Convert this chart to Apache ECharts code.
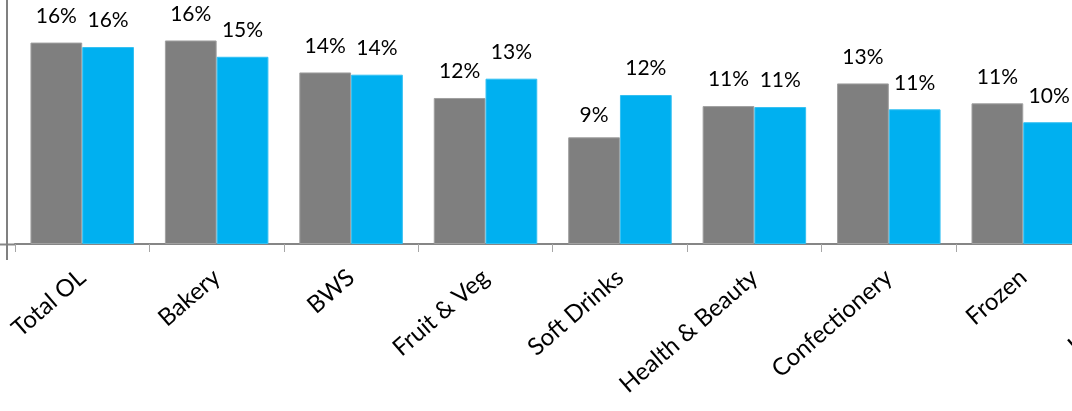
<!DOCTYPE html>
<html>
<head>
<meta charset="utf-8">
<script src="https://cdn.jsdelivr.net/npm/echarts@6/dist/echarts.min.js"></script>
<style>
html,body{margin:0;padding:0;background:#fff;overflow:hidden;width:1072px;height:411px;}
#c{width:1240px;height:411px;}
</style>
</head>
<body>
<div id="c"></div>
<script>
const categories = ['Total OL','Bakery','BWS','Fruit & Veg','Soft Drinks','Health & Beauty','Confectionery','Frozen','Household'];
const seriesGrey = [16.18, 16.35, 13.78, 11.73, 8.57, 11.08, 12.90, 11.30, null];
const seriesBlue = [15.82, 15.04, 13.60, 13.28, 11.97, 11.00, 10.82, 9.78, null];

const FONT = 'Lato';
const chart = echarts.init(document.getElementById('c'), null, {renderer:'canvas', width: 1240, height: 411});
const labelCfg = {
  show: true,
  position: 'top',
  distance: 16,
  fontFamily: FONT,
  fontSize: 21,
  color: '#000',
  formatter: p => Math.round(p.value) + '%'
};
// the "Soft Drinks" grey label sits a little closer to its bar in the reference
const greyData = seriesGrey.map((v, i) => i === 4 ? {value: v, label: {distance: 12}} : v);

chart.setOption({
  animation: false,
  grid: {left: 15, top: 0, right: 15.1, height: 244},
  xAxis: {
    type: 'category',
    data: categories,
    axisLine: {lineStyle: {color: '#868686', width: 2}},
    axisTick: {show: true, length: 8, lineStyle: {color: '#a6a6a6', width: 1}},
    axisLabel: {rotate: 41, margin: 30, fontFamily: FONT, fontSize: 24, color: '#000', interval: 0}
  },
  yAxis: {
    type: 'value',
    min: 0, max: 19.6,
    offset: 8,
    axisLine: {show: true, lineStyle: {color: '#808080', width: 2}},
    axisTick: {show: false},
    axisLabel: {show: false},
    splitLine: {show: false}
  },
  graphic: [
    {type: 'line', shape: {x1: 0, y1: 244.5, x2: 15, y2: 244.5}, style: {stroke: '#868686', lineWidth: 2}},
    {type: 'line', shape: {x1: 7, y1: 244, x2: 7, y2: 260}, style: {stroke: '#808080', lineWidth: 2}}
  ],
  series: [
    {type: 'bar', data: greyData, barGap: '0%', barCategoryGap: '23%',
     itemStyle: {color: '#7f7f7f', borderColor: '#a0a0a0', borderWidth: 1}, label: labelCfg},
    {type: 'bar', data: seriesBlue, barGap: '0%', barCategoryGap: '23%',
     itemStyle: {color: '#00b0f0', borderColor: '#33c0f2', borderWidth: 1}, label: labelCfg}
  ]
});
</script>
</body>
</html>
